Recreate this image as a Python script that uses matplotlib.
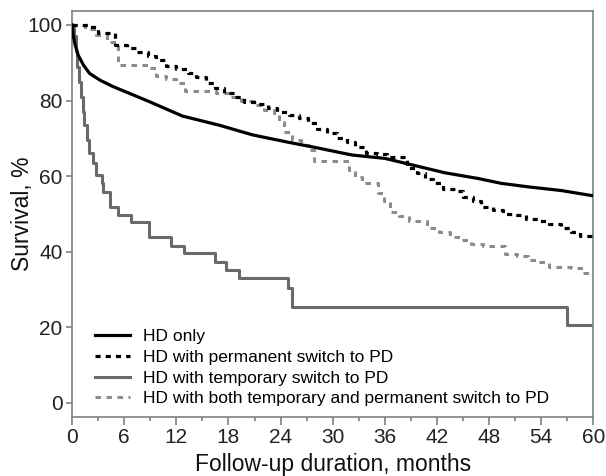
import numpy as np
import matplotlib
matplotlib.use("Agg")
import matplotlib.pyplot as plt

plt.rcParams['font.family'] = ['Liberation Sans', 'DejaVu Sans']

# HD only (smooth, many events)
hd_t = [0, 0.15, 0.35, 0.7, 1.3, 2.0, 3.2, 4.7, 6.6, 8.9, 12.7, 16.9, 20.8, 24.6,
        28.4, 32.2, 36.0, 39.1, 42.9, 46.7, 49.4, 52.4, 56.3, 60]
hd_s = [100, 97, 94.7, 92, 89.4, 87.2, 85.4, 83.7, 81.9, 79.7, 75.9, 73.5, 70.9, 69.1,
        67.4, 65.6, 64.7, 63.0, 60.9, 59.4, 58.1, 57.2, 56.2, 54.8]

# HD with permanent switch to PD
perm_t = [0, 2.0, 3.0, 4.9, 6.3, 7.4, 8.7, 9.7, 10.8, 12.0, 13.3, 14.3, 15.4, 16.4,
          17.5, 18.7, 19.8, 21.2, 22.5, 23.6, 25.0, 26.1, 27.1, 28.2, 29.4, 30.5,
          31.7, 32.6, 33.8, 35.1, 36.2, 38.5, 39.7, 40.6, 41.6, 42.7, 44.1, 45.0,
          46.2, 47.1, 48.4, 49.6, 50.9, 52.3, 53.6, 54.9, 56.3, 57.4, 58.5, 60]
perm_s = [100, 99.5, 97.8, 94.7, 93.8, 92.8, 91.9, 90.6, 89.2, 88.4, 87.2, 86.1, 84.6, 83.4,
          81.9, 81.0, 79.7, 79.0, 78.1, 77.1, 76.2, 75.3, 74.0, 72.4, 71.3, 70.2,
          69.1, 67.6, 66.2, 65.9, 65.0, 62.1, 60.9, 59.2, 58.1, 56.5, 56.2, 54.4,
          53.3, 51.8, 51.1, 49.9, 49.6, 48.7, 48.1, 47.4, 46.2, 45.2, 44.2, 44.2]

# HD with temporary switch to PD
temp_t = [0, 0.2, 0.4, 0.6, 0.8, 1.0, 1.2, 1.4, 1.7, 2.0, 2.4, 2.8, 3.4, 3.6, 4.35,
          5.3, 6.8, 8.9, 11.4, 12.9, 16.4, 17.7, 19.2, 24.8, 25.3, 57.0, 60]
temp_s = [100, 97, 93, 89, 85, 81, 77, 73.5, 69.5, 66.1, 63.4, 60.3, 58.1, 55.9, 51.9,
          49.7, 48, 43.8, 41.5, 39.6, 37.4, 35.2, 33, 30.4, 25.5, 20.5, 20.5]

# HD with both temporary and permanent switch to PD
both_t = [0, 1.5, 2.8, 4.0, 5.3, 8.7, 9.7, 10.8, 12.0, 13.0, 16.6, 18.0, 19.5, 21.0, 22.1,
          23.2, 23.8, 24.4, 25.3, 26.3, 27.3, 27.8, 31.9, 32.6, 33.4, 35.2, 35.9, 36.6,
          37.6, 38.8, 40.8, 42.2, 43.5, 44.7, 45.9, 47.3, 49.8, 51.2, 52.5, 53.7, 54.9,
          57.4, 58.8, 60]
both_s = [100, 99, 97.3, 95.5, 89.4, 88.5, 86.5, 85.7, 84.6, 82.5, 81.9, 81.0, 80.0, 78.8, 77.5,
          76.6, 74.4, 71.8, 69.6, 68.3, 66.9, 64.0, 61.5, 59.9, 58.1, 55.5, 53.3, 50.6,
          49.5, 48.2, 46.2, 45.3, 44.0, 43.1, 42.1, 41.6, 39.4, 39.0, 37.8, 37.4, 36.1,
          35.6, 34.3, 34.3]

labels = ['HD only', 'HD with permanent switch to PD', 'HD with temporary switch to PD',
          'HD with both temporary and permanent switch to PD']

fig = plt.figure(figsize=(6.06, 4.76), dpi=100)
ax = fig.add_axes([0.119, 0.124, 0.860, 0.853])

ax.plot(hd_t, hd_s, color='black', lw=2.3, label=labels[0], zorder=4)
ax.plot(perm_t, perm_s, color='black', lw=2.3, dashes=(1.6, 1.6), drawstyle='steps-post',
        label=labels[1], zorder=3)
ax.plot(temp_t, temp_s, color='#6a6a6a', lw=2.2, drawstyle='steps-post', label=labels[2], zorder=2)
ax.plot(both_t, both_s, color='#8c8c8c', lw=2.2, dashes=(1.8, 1.8), drawstyle='steps-post',
        label=labels[3], zorder=1)

ax.set_xlim(0, 60)
ax.set_ylim(-3.7, 103.7)
ax.set_xticks(np.arange(0, 61, 6))
ax.set_xticks(np.arange(3, 60, 6), minor=True)
ax.set_yticks(np.arange(0, 101, 20))
for s in ax.spines.values():
    s.set_color('#808080')
    s.set_linewidth(1.2)
ax.tick_params(which='both', direction='out', color='#808080', width=1.2,
               labelsize=15, labelcolor='#222222')
ax.tick_params(axis='x', which='major', length=5.5, pad=2.5)
ax.tick_params(axis='x', which='minor', length=3.2)
ax.tick_params(axis='y', which='major', length=4.5, pad=2.5)

ax.set_xlabel('Follow-up duration, months', fontsize=16.5, color='#111111', labelpad=4)
ax.set_ylabel('Survival, %', fontsize=16.5, color='#111111', labelpad=-5)

ax.legend(loc='lower left', bbox_to_anchor=(0.031, 0.009), frameon=False, fontsize=12.5,
          handlelength=2.0, handletextpad=0.75, labelspacing=0.32, borderaxespad=0)

fig.savefig('out.png', dpi=100)
